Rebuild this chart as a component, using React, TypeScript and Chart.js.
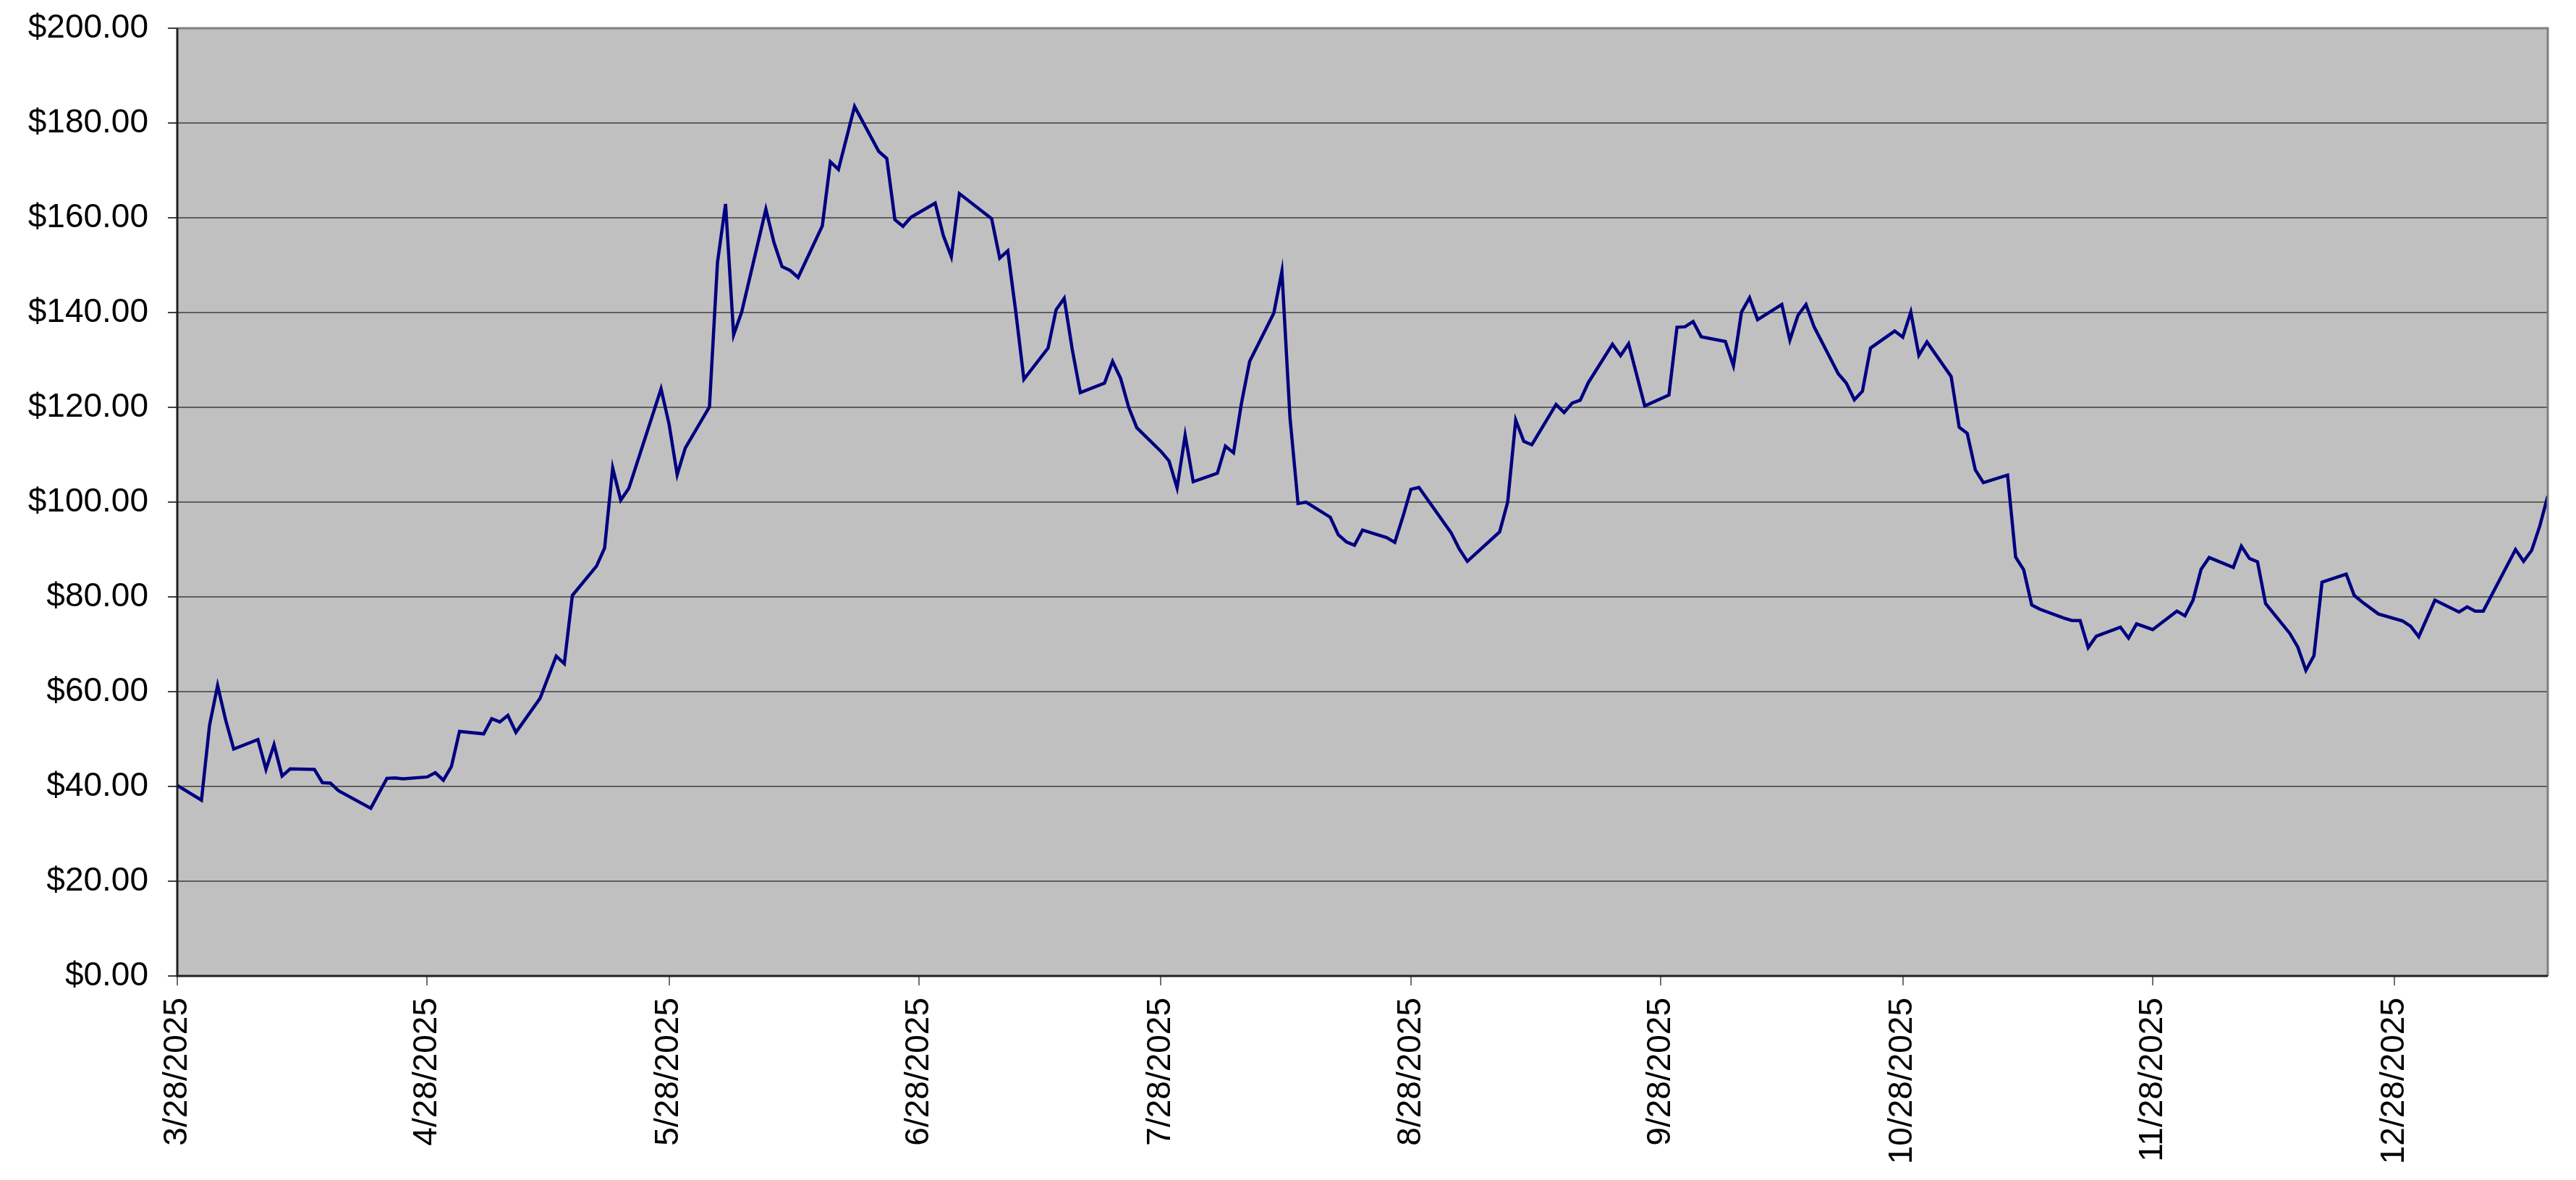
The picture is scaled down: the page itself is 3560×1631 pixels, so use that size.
import React, { useEffect, useRef } from 'react';
import { Chart, registerables } from 'chart.js';

Chart.register(...registerables);

// closing prices (trading days only, collinear days left out)
const dates = [
  '3/28/2025', '3/31/2025', '4/1/2025', '4/2/2025', '4/3/2025', '4/4/2025',
  '4/7/2025', '4/8/2025', '4/9/2025', '4/10/2025', '4/11/2025',
  '4/14/2025', '4/15/2025', '4/16/2025', '4/17/2025',
  '4/21/2025', '4/23/2025', '4/24/2025', '4/25/2025',
  '4/28/2025', '4/29/2025', '4/30/2025', '5/1/2025', '5/2/2025',
  '5/5/2025', '5/6/2025', '5/7/2025', '5/8/2025', '5/9/2025',
  '5/12/2025', '5/13/2025', '5/14/2025', '5/15/2025', '5/16/2025',
  '5/19/2025', '5/20/2025', '5/21/2025', '5/22/2025', '5/23/2025',
  '5/27/2025', '5/28/2025', '5/29/2025', '5/30/2025',
  '6/2/2025', '6/3/2025', '6/4/2025', '6/5/2025', '6/6/2025',
  '6/9/2025', '6/10/2025', '6/11/2025', '6/12/2025', '6/13/2025',
  '6/16/2025', '6/17/2025', '6/18/2025', '6/20/2025',
  '6/23/2025', '6/24/2025', '6/25/2025', '6/26/2025', '6/27/2025',
  '6/30/2025', '7/1/2025', '7/2/2025', '7/3/2025',
  '7/7/2025', '7/8/2025', '7/9/2025', '7/10/2025', '7/11/2025',
  '7/14/2025', '7/15/2025', '7/16/2025', '7/17/2025', '7/18/2025',
  '7/21/2025', '7/22/2025', '7/23/2025', '7/24/2025', '7/25/2025',
  '7/28/2025', '7/29/2025', '7/30/2025', '7/31/2025', '8/1/2025',
  '8/4/2025', '8/5/2025', '8/6/2025', '8/7/2025', '8/8/2025',
  '8/11/2025', '8/12/2025', '8/13/2025', '8/14/2025', '8/15/2025',
  '8/18/2025', '8/19/2025', '8/20/2025', '8/21/2025', '8/22/2025',
  '8/25/2025', '8/26/2025', '8/27/2025', '8/28/2025', '8/29/2025',
  '9/2/2025', '9/3/2025', '9/4/2025',
  '9/8/2025', '9/9/2025', '9/10/2025', '9/11/2025', '9/12/2025',
  '9/15/2025', '9/16/2025', '9/17/2025', '9/18/2025', '9/19/2025',
  '9/22/2025', '9/23/2025', '9/24/2025', '9/26/2025',
  '9/29/2025', '9/30/2025', '10/1/2025', '10/2/2025', '10/3/2025',
  '10/6/2025', '10/7/2025', '10/8/2025', '10/9/2025', '10/10/2025',
  '10/13/2025', '10/14/2025', '10/15/2025', '10/16/2025', '10/17/2025',
  '10/20/2025', '10/21/2025', '10/22/2025', '10/23/2025', '10/24/2025',
  '10/27/2025', '10/28/2025', '10/29/2025', '10/30/2025', '10/31/2025',
  '11/3/2025', '11/4/2025', '11/5/2025', '11/6/2025', '11/7/2025',
  '11/10/2025', '11/11/2025', '11/12/2025', '11/13/2025', '11/14/2025',
  '11/17/2025', '11/18/2025', '11/19/2025', '11/20/2025', '11/21/2025',
  '11/24/2025', '11/25/2025', '11/26/2025', '11/28/2025',
  '12/1/2025', '12/2/2025', '12/3/2025', '12/4/2025', '12/5/2025',
  '12/8/2025', '12/9/2025', '12/10/2025', '12/11/2025', '12/12/2025',
  '12/15/2025', '12/16/2025', '12/17/2025', '12/18/2025', '12/19/2025',
  '12/22/2025', '12/23/2025', '12/24/2025', '12/26/2025',
  '12/29/2025', '12/30/2025', '12/31/2025', '1/2/2026',
  '1/5/2026', '1/6/2026', '1/7/2026', '1/8/2026',
  '1/12/2026', '1/13/2026', '1/14/2026', '1/15/2026', '1/16/2026',
];

const prices = [
  40.2, 37.1, 52.9, 61.3, 54.0, 47.9,
  49.9, 43.6, 48.8, 42.2, 43.7,
  43.6, 40.8, 40.7, 39.1,
  35.4, 41.7, 41.8, 41.6,
  42.0, 42.9, 41.3, 44.2, 51.6,
  51.1, 54.3, 53.6, 55.0, 51.4,
  58.6, 63.1, 67.5, 65.9, 80.3,
  86.5, 90.3, 107.2, 100.4, 102.9,
  123.9, 116.4, 105.8, 111.4,
  120.1, 150.6, 162.9, 135.3, 140.1,
  161.8, 154.8, 149.7, 148.9, 147.4,
  158.3, 171.8, 170.2, 183.5,
  174.0, 172.5, 159.6, 158.2, 160.1,
  163.1, 156.3, 151.8, 165.1,
  159.8, 151.5, 153.0, 140.1, 125.9,
  132.5, 140.6, 143.0, 132.2, 123.1,
  125.1, 129.7, 126.1, 120.0, 115.7,
  110.7, 108.7, 103.0, 114.1, 104.3,
  106.1, 111.8, 110.4, 121.0, 129.7,
  139.9, 148.7, 117.9, 99.7, 100.0,
  96.8, 93.1, 91.6, 90.9, 94.1,
  92.5, 91.5, 96.9, 102.7, 103.1,
  93.5, 90.1, 87.5,
  93.7, 100.0, 117.3, 112.8, 112.1,
  120.6, 118.9, 120.9, 121.5, 125.2,
  133.3, 130.9, 133.4, 120.3,
  122.6, 136.9, 137.0, 138.1, 134.9,
  133.9, 128.8, 140.1, 143.1, 138.5,
  141.7, 134.2, 139.4, 141.7, 137.0,
  127.1, 125.1, 121.6, 123.4, 132.5,
  136.1, 134.8, 140.1, 131.0, 133.8,
  126.5, 115.8, 114.5, 106.8, 104.1,
  105.7, 88.4, 85.7, 78.3, 77.4,
  75.5, 75.0, 75.0, 69.3, 71.7,
  73.6, 71.3, 74.3, 73.1,
  77.0, 76.0, 79.3, 85.8, 88.3,
  86.2, 90.7, 88.1, 87.4, 78.6,
  72.3, 69.4, 64.5, 67.6, 83.1,
  84.8, 80.3, 78.9, 76.4,
  74.9, 73.8, 71.6, 79.3,
  76.8, 77.9, 77.0, 77.0,
  90.0, 87.5, 89.8, 94.9, 101.3,
];

const tickLabels = [
  '3/28/2025', '4/28/2025', '5/28/2025', '6/28/2025', '7/28/2025',
  '8/28/2025', '9/28/2025', '10/28/2025', '11/28/2025', '12/28/2025',
];

const startDate = '3/28/2025';
const endDate = '1/16/2026';

// days since the first date
const dayOffset = (s: string) => {
  const [m, d, y] = s.split('/').map(Number);
  const [m0, d0, y0] = startDate.split('/').map(Number);
  return Math.round((Date.UTC(y, m - 1, d) - Date.UTC(y0, m0 - 1, d0)) / 86400000);
};

const FONT = '"Liberation Sans", Arial, sans-serif';

const plotFrame = {
  id: 'plotFrame',
  beforeDraw(chart: any) {
    const { ctx, chartArea: a } = chart;
    ctx.save();
    ctx.fillStyle = '#C0C0C0';
    ctx.fillRect(a.left, a.top, a.right - a.left, a.bottom - a.top);
    ctx.restore();
  },
  afterDatasetsDraw(chart: any) {
    const { ctx, chartArea: a } = chart;
    ctx.save();
    ctx.lineWidth = 3;
    ctx.strokeStyle = '#808080';
    ctx.beginPath();
    ctx.moveTo(a.left, a.top);
    ctx.lineTo(a.right, a.top);
    ctx.lineTo(a.right, a.bottom);
    ctx.stroke();
    ctx.strokeStyle = '#202020';
    ctx.beginPath();
    ctx.moveTo(a.left, a.top);
    ctx.lineTo(a.left, a.bottom);
    ctx.lineTo(a.right, a.bottom);
    ctx.stroke();
    ctx.restore();
  },
};

const PriceChart = () => {
  const canvasRef = useRef<HTMLCanvasElement | null>(null);

  useEffect(() => {
    if (!canvasRef.current) return;
    const points = dates.map((d, i) => ({ x: dayOffset(d), y: prices[i] }));
    const tickDays = tickLabels.map(dayOffset);

    const chart = new Chart(canvasRef.current, {
      type: 'line',
      data: {
        datasets: [{
          data: points,
          borderColor: '#000080',
          borderWidth: 4.5,
          pointRadius: 0,
          tension: 0,
          fill: false,
        }],
      },
      options: {
        animation: false,
        responsive: true,
        maintainAspectRatio: false,
        layout: { padding: { top: 39, right: 39, left: 0, bottom: 0 } },
        plugins: { legend: { display: false }, tooltip: { enabled: false } },
        scales: {
          x: {
            type: 'linear',
            min: 0,
            max: dayOffset(endDate),
            afterBuildTicks: (scale: any) => {
              scale.ticks = tickDays.map((v) => ({ value: v }));
            },
            afterFit: (scale: any) => { scale.height = 282; },
            border: { display: false },
            grid: { drawOnChartArea: false, drawTicks: true, tickLength: 13, color: '#707070', lineWidth: 2 },
            ticks: {
              autoSkip: false,
              maxRotation: 90,
              minRotation: 90,
              padding: 17,
              color: '#000',
              font: { family: FONT, size: 46 },
              callback: (_v: any, i: number) => tickLabels[i],
            },
          },
          y: {
            min: 0,
            max: 200,
            // fixed width; the label padding must not push the plot top down
            afterFit: (scale: any) => {
              scale.width = 245;
              scale.paddingTop = 0;
              scale.paddingBottom = 0;
            },
            border: { display: false },
            grid: { color: '#5E5E5E', lineWidth: 2, tickLength: 13, tickColor: '#404040' },
            ticks: {
              stepSize: 20,
              padding: 27,
              color: '#000',
              font: { family: FONT, size: 46 },
              callback: (v: any) => '$' + Number(v).toFixed(2),
            },
          },
        },
      },
      plugins: [plotFrame],
    });

    return () => {
      chart.destroy();
    };
  }, []);

  return (
    <div style={{ position: 'fixed', left: 0, top: 0, width: 3560, height: 1631, background: '#fff' }}>
      <canvas ref={canvasRef}></canvas>
    </div>
  );
};

export default function App() {
  return <PriceChart />;
}
